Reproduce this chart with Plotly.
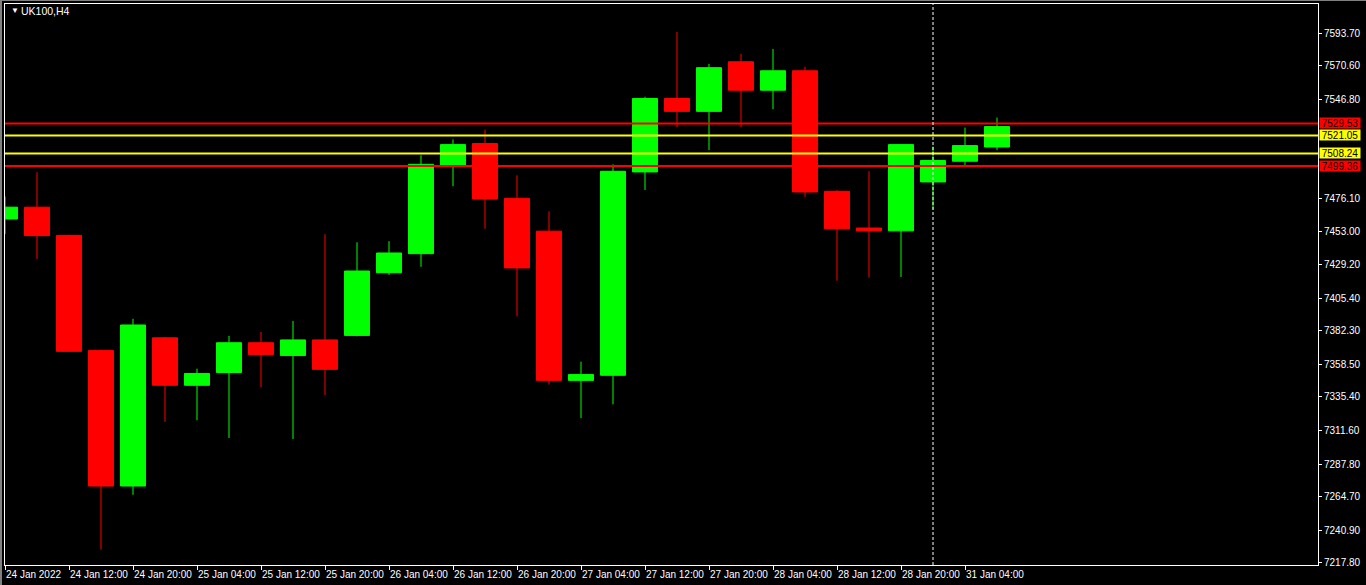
import plotly.graph_objects as go

# ---- data (UK100, H4) ----
bar_index = list(range(32))
open_ = [7461.7, 7470.1, 7450.1, 7368.3, 7272.2, 7377.4, 7343.7, 7352.8,
         7373.9, 7364.8, 7375.9, 7379.1, 7423.6, 7437.1, 7499.8, 7515.3,
         7476.4, 7453.1, 7347.2, 7350.8, 7495.1, 7547.2, 7538.1, 7573.3,
         7553.1, 7566.9, 7481.4, 7455.3, 7453.3, 7488.0, 7502.7, 7512.8]
high = [7477.7, 7494.9, 7450.5, 7369.0, 7390.9, 7378.1, 7355.5, 7378.8,
        7381.5, 7389.4, 7450.9, 7445.2, 7446.0, 7506.9, 7518.2, 7525.1,
        7492.7, 7467.1, 7360.4, 7500.5, 7548.5, 7594.4, 7571.8, 7578.9,
        7582.4, 7569.8, 7482.1, 7495.6, 7514.5, 7513.1, 7526.6, 7533.7]
low = [7451.1, 7433.4, 7367.5, 7227.0, 7266.0, 7317.7, 7318.9, 7306.3,
       7342.2, 7305.6, 7336.6, 7378.4, 7422.0, 7427.8, 7485.0, 7454.8,
       7392.6, 7344.2, 7320.4, 7330.2, 7482.3, 7526.8, 7510.6, 7526.8,
       7539.6, 7477.4, 7417.9, 7420.1, 7420.6, 7468.3, 7500.0, 7510.6]
close = [7470.1, 7449.9, 7367.8, 7272.2, 7386.5, 7343.7, 7352.1, 7373.9,
         7365.6, 7375.9, 7355.0, 7424.8, 7437.6, 7500.5, 7514.5, 7475.9,
         7427.0, 7347.2, 7351.3, 7495.6, 7547.2, 7538.1, 7569.1, 7553.1,
         7566.9, 7480.9, 7454.8, 7453.3, 7514.5, 7503.2, 7513.8, 7527.3]

x_tick_bars = [0, 2, 4, 6, 8, 10, 12, 14, 16, 18, 20, 22, 24, 26, 28, 30]
x_tick_labels = ["24 Jan 2022", "24 Jan 12:00", "24 Jan 20:00", "25 Jan 04:00",
                 "25 Jan 12:00", "25 Jan 20:00", "26 Jan 04:00", "26 Jan 12:00",
                 "26 Jan 20:00", "27 Jan 04:00", "27 Jan 12:00", "27 Jan 20:00",
                 "28 Jan 04:00", "28 Jan 12:00", "28 Jan 20:00", "31 Jan 04:00"]

price_ticks = [7593.70, 7570.60, 7546.80, 7476.10, 7453.00, 7429.20, 7405.40,
               7382.30, 7358.50, 7335.40, 7311.60, 7287.80, 7264.70, 7240.90, 7217.80]

level_values = [7529.53, 7521.05, 7508.24, 7499.36]
level_colors = ["#FF0000", "#FFFF00", "#FFFF00", "#FF0000"]

separator_bar = 29
title_text = "UK100,H4"

FONT = "Tahoma, Liberation Sans, Arial, sans-serif"
BULL = "#00FF00"
BEAR = "#FF0000"

fig = go.Figure()
fig.add_trace(go.Candlestick(
    x=bar_index, open=open_, high=high, low=low, close=close,
    increasing=dict(line=dict(color=BULL, width=1), fillcolor=BULL),
    decreasing=dict(line=dict(color=BEAR, width=1), fillcolor=BEAR),
    whiskerwidth=0, hoverinfo="skip", showlegend=False,
))

shapes = []
for v, c in zip(level_values, level_colors):
    shapes.append(dict(type="line", xref="paper", x0=0, x1=1, yref="y", y0=v, y1=v,
                       line=dict(color=c, width=2), layer="above"))
shapes.append(dict(type="line", xref="x", x0=separator_bar, x1=separator_bar,
                   yref="paper", y0=0, y1=1,
                   line=dict(color="#FFFFFF", width=1, dash="3px,2px"), layer="above"))
# outer window frame (grey)
shapes.append(dict(type="line", xref="paper", x0=-4/1313, x1=-4/1313, yref="paper",
                   y0=-0.05, y1=1.01, line=dict(color="#808080", width=2)))
shapes.append(dict(type="line", xref="paper", x0=-0.01, x1=1.04, yref="paper",
                   y0=1 + 3.5/561, y1=1 + 3.5/561, line=dict(color="#808080", width=1)))

annotations = []
for v, c in zip(level_values, level_colors):
    annotations.append(dict(
        xref="paper", x=1, xanchor="left", xshift=1, yref="y", y=v, yanchor="middle",
        text=f"{v:.2f}", showarrow=False, bgcolor=c, width=40, height=10,
        borderpad=0, font=dict(family=FONT, size=10, color="#000000")))
annotations.append(dict(xref="paper", yref="paper", x=4/1313, y=1 - 7/561,
                        xanchor="left", yanchor="middle", text="▼", showarrow=False,
                        font=dict(family=FONT, size=8, color="#FFFFFF")))
annotations.append(dict(xref="paper", yref="paper", x=14/1313, y=1 - 7/561,
                        xanchor="left", yanchor="middle", text=title_text, showarrow=False,
                        font=dict(family=FONT, size=10.5, color="#FFFFFF")))

fig.update_layout(
    width=1366, height=585, autosize=False,
    margin=dict(l=5, r=48, t=4, b=20, pad=0),
    paper_bgcolor="#000000", plot_bgcolor="#000000",
    boxgap=0.22, boxgroupgap=0,
    shapes=shapes, annotations=annotations,
    hovermode=False, showlegend=False,
    xaxis=dict(
        range=[0, 1313 / 32], showgrid=False, zeroline=False,
        rangeslider=dict(visible=False),
        tickmode="array", tickvals=x_tick_bars, ticktext=x_tick_labels,
        ticks="outside", ticklen=4, tickcolor="#FFFFFF", tickwidth=1,
        ticklabelposition="outside right", tickangle=0,
        tickfont=dict(family=FONT, size=10, color="#FFFFFF"),
        showline=True, linecolor="#FFFFFF", linewidth=1, mirror=True,
        fixedrange=True,
    ),
    yaxis=dict(
        range=[7216.17, 7614.28], side="right", showgrid=False, zeroline=False,
        tickmode="array", tickvals=price_ticks,
        ticktext=[f"{v:.2f}" for v in price_ticks],
        ticks="outside", ticklen=3, tickcolor="#FFFFFF", tickwidth=1,
        tickfont=dict(family=FONT, size=10, color="#FFFFFF"),
        showline=True, linecolor="#FFFFFF", linewidth=1, mirror=True,
        fixedrange=True,
    ),
)

fig.write_html("out.html", config={"displayModeBar": False},
               post_script="document.body.style.margin='0';document.body.style.background='#000';")
